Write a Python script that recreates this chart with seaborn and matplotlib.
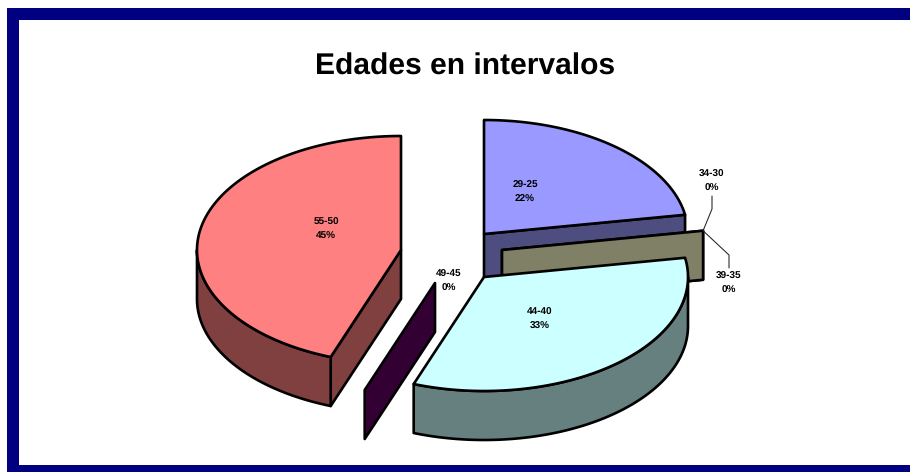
import numpy as np
import matplotlib
matplotlib.use("Agg")
import matplotlib.pyplot as plt
from matplotlib.patches import Polygon, Rectangle
import seaborn as sns

# ---- data (clockwise from 12 o'clock) ----
age_groups = ["29-25", "34-30", "39-35", "44-40", "49-45", "55-50"]
shares = [22.3, 0.0, 0.0, 33.3, 0.0, 44.4]
pct_labels = ["22%", "0%", "0%", "33%", "0%", "45%"]
chart_title = "Edades en intervalos"

# ---- styles and layout (pixel space) ----
top_palette = sns.color_palette(["#9999FF", "#993366", "#FFFFCC", "#CCFFFF", "#660066", "#FF8080"])
side_palette = sns.color_palette(["#4D4D80", "#4D1A33", "#808066", "#668080", "#330033", "#804040"])
slice_centers = [(484, 234), (502, 250), (502, 250), (484, 277), (435, 283), (401, 250)]
label_positions = [(525, 192), (712, 181), (729, 283), (540, 319), (449, 281), (326, 229)]
radius_x, radius_y, depth = 204, 114, 49
edge = "black"
lw = 1.9

sns.set_theme(style="white")
plt.rcParams["font.family"] = ["Liberation Sans", "DejaVu Sans"]
plt.rcParams["text.hinting"] = "no_hinting"
plt.rcParams["text.hinting_factor"] = 1

fig = plt.figure(figsize=(9.1, 4.72), dpi=100, facecolor="white")
ax = fig.add_axes([0, 0, 1, 1])
ax.set_xlim(0, 910)
ax.set_ylim(472, 0)
ax.axis("off")

# outer frame
navy = "#000080"
ax.add_patch(Rectangle((7, 8), 903, 12, fc=navy, ec="none"))
ax.add_patch(Rectangle((7, 8), 12, 464, fc=navy, ec="none"))
ax.add_patch(Rectangle((7, 465), 903, 7, fc=navy, ec="none"))


def rim(center, a0, a1):
    """Points of the ellipse between clockwise angles a0, a1 (degrees from the top)."""
    t = np.radians(np.linspace(a0, a1, max(int(abs(a1 - a0)) * 2, 2)))
    return np.column_stack([center[0] + radius_x * np.sin(t), center[1] - radius_y * np.cos(t)])


def extrude(points):
    """Wall between a path and the same path moved down by the pie depth."""
    low = points + np.array([0, depth])
    return np.vstack([points, low[::-1]])


def poly(points, color, z):
    ax.add_patch(Polygon(points, closed=True, fc=color, ec=edge, lw=lw, joinstyle="round", zorder=z))


edges = np.concatenate([[0], np.cumsum(shares)]) / np.sum(shares) * 360
for i in range(len(shares)):
    a0, a1 = edges[i], edges[i + 1]
    c = np.array(slice_centers[i], dtype=float)
    top, side = top_palette[i], side_palette[i]
    z0 = 3 + i * 3
    end_pt = rim(c, a1, a1)[:1]
    start_pt = rim(c, a0, a0)[:1]
    # clockwise-end cut wall (faces the viewer for angles under 90 degrees)
    if a1 < 90:
        poly(extrude(np.vstack([c, end_pt])), side, z0)
    # clockwise-start cut wall (faces the viewer for angles past 180 degrees)
    if a0 > 180:
        poly(extrude(np.vstack([c, start_pt])), side, z0)
    # outer wall on the front half of the ellipse
    lo, hi = max(a0, 90), min(a1, 270)
    if hi > lo:
        poly(extrude(rim(c, lo, hi)), side, z0 + 1)
    # top face
    if a1 > a0:
        poly(np.vstack([c, rim(c, a0, a1)]), top, z0 + 2)

# leader lines from the two zero slices
tip = np.array(slice_centers[2]) + rim((0, 0), edges[2], edges[2])[0]
ax.plot([tip[0], 712, 712], [tip[1], 209, 196], color="#222222", lw=0.75, zorder=40)
ax.plot([tip[0], 729, 729], [tip[1], 255, 268], color="#222222", lw=0.75, zorder=40)

for (x, y), name, pct in zip(label_positions, age_groups, pct_labels):
    ax.text(x, y - 7, name, ha="center", va="center", fontsize=6.9, fontweight="bold", color="black", zorder=50)
    ax.text(x, y + 7, pct, ha="center", va="center", fontsize=6.9, fontweight="bold", color="black", zorder=50)

ax.text(465, 67, chart_title, ha="center", va="center", fontsize=21.85, fontweight="bold", color="black")

fig.savefig("out.png", dpi=100, facecolor="white")
